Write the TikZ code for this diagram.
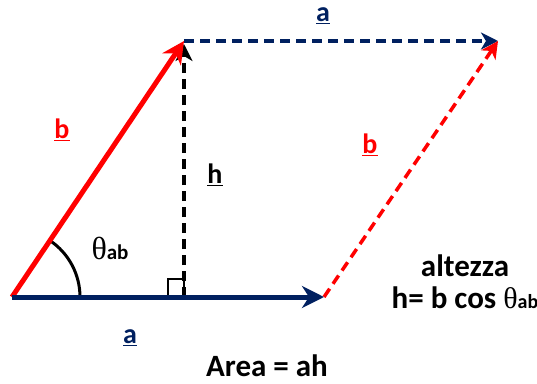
\documentclass[tikz,border=0pt]{standalone}
\usepackage{fontspec}
\setmainfont{Carlito}
\newfontfamily\thetafont{Liberation Serif}
\usepackage{xcolor}
\usetikzlibrary{arrows.meta}
\definecolor{navy}{RGB}{0,32,96}

\newcommand{\thab}[2]{{\thetafont\mdseries\fontsize{#1}{#1}\selectfont θ}{\fontsize{#2}{#2}\selectfont\bfseries ab}}

\tikzset{
  vec/.style={line width=5pt,-{Stealth[length=22pt,width=22pt,inset=7pt]}},
  dvec/.style={line width=3.5pt,dash pattern=on 10pt off 6pt,-{Stealth[length=17pt,width=17pt,inset=5pt]}},
  lbl/.style={font=\fontsize{28}{30}\selectfont\bfseries,inner sep=0pt},
  txt/.style={font=\fontsize{31}{34}\selectfont\bfseries,inner sep=0pt},
}

\begin{document}
\begin{tikzpicture}[x=1pt,y=-1pt]
  \useasboundingbox (0,0) rectangle (537,383);
  % corners of the parallelogram
  \coordinate (O) at (12,297);
  \coordinate (A) at (324,297);
  \coordinate (B) at (184,41);
  \coordinate (C) at (498,41);
  \coordinate (H) at (184,297);
  \coordinate (Ht) at (184,44);

  % height and right angle
  \draw[dvec] (H) -- (Ht);
  \draw[line width=1.8pt] (H) rectangle ++(-16,-18);
  \draw[line width=3pt] (O) ++(68,0) arc[start angle=0,end angle=-56,radius=68];

  % sides
  \draw[dvec,navy] (B) -- (C);
  \draw[dvec,red] (A) -- (C);
  \draw[vec,red] (O) -- (B);
  \draw[vec,navy] (O) -- (A);

  % labels
  \node[lbl,navy] (la1) at (130,338) {\underline{a}};
  \node[lbl,navy] (la2) at (323,16) {\underline{a}};
  \node[lbl,red] (lb1) at (62,130) {\underline{b}};
  \node[lbl,red] (lb2) at (370,145) {\underline{b}};
  \node[lbl] (lh) at (215,175) {\underline{h}};
  \node[inner sep=0pt] (lth) at (110,248) {\thab{32}{21}};
  \node[txt] (alt) at (465,266) {altezza};
  \node[txt] (form) at (465,298) {h= b cos \thab{30}{20}};
  \node[txt,anchor=base] (area) at (267,376) {Area = ah};
\end{tikzpicture}
\end{document}
